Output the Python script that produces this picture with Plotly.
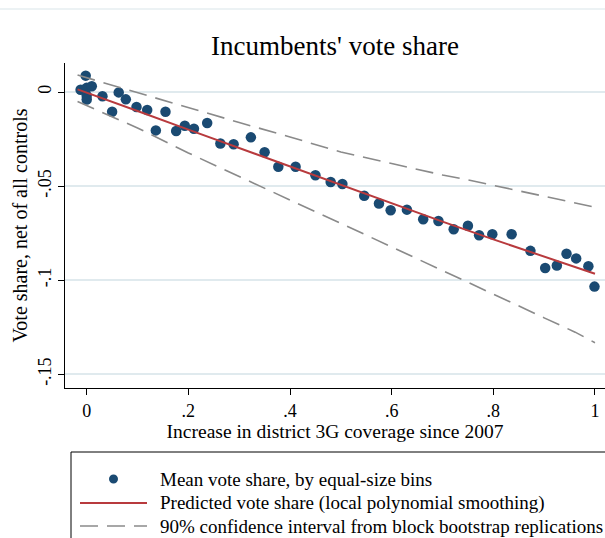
import plotly.graph_objects as go

# Binned means of incumbent vote share against the increase in 3G coverage
bin_x = [-0.012, -0.002, 0.000, 0.000, 0.000, 0.010, 0.031, 0.050, 0.063, 0.077,
         0.098, 0.119, 0.136, 0.155, 0.176, 0.193, 0.211, 0.237, 0.263, 0.289,
         0.323, 0.350, 0.377, 0.411, 0.450, 0.480, 0.503, 0.546, 0.575, 0.598,
         0.630, 0.662, 0.692, 0.722, 0.750, 0.772, 0.798, 0.836, 0.873, 0.902,
         0.925, 0.944, 0.963, 0.987, 0.999]
bin_y = [0.0012, 0.0087, 0.0022, -0.0020, -0.0040, 0.0031, -0.0023, -0.0105, -0.0002, -0.0039,
         -0.0080, -0.0096, -0.0204, -0.0105, -0.0207, -0.0179, -0.0195, -0.0165, -0.0274, -0.0278,
         -0.0241, -0.0320, -0.0397, -0.0397, -0.0442, -0.0478, -0.0489, -0.0551, -0.0592, -0.0628,
         -0.0625, -0.0676, -0.0685, -0.0729, -0.0711, -0.0761, -0.0756, -0.0756, -0.0844, -0.0935,
         -0.0922, -0.0859, -0.0884, -0.0926, -0.1034]

# Local polynomial fit and 90% bootstrap band
fit_x = [-0.018, 0.0, 0.1, 0.2, 0.3, 0.4, 0.5, 0.6, 0.7, 0.8, 0.9, 1.0]
fit_y = [0.0014, -0.0003, -0.0101, -0.0200, -0.0298, -0.0397, -0.0495, -0.0593, -0.0689, -0.0783, -0.0875, -0.0966]

ci_x = [-0.018, 0.1, 0.2, 0.3, 0.4, 0.5, 0.6, 0.7, 0.75, 0.8, 0.867, 0.9, 0.961, 1.0]
ci_upper = [0.0090, -0.0005, -0.0083, -0.0162, -0.0239, -0.0319, -0.0380, -0.0441, -0.0467, -0.0496, -0.0535, -0.0555, -0.0588, -0.0612]
ci_lower = [-0.0051, -0.0191, -0.0324, -0.0451, -0.0574, -0.0698, -0.0823, -0.0945, -0.1009, -0.1073, -0.1158, -0.1200, -0.1276, -0.1332]

x_ticks = [0, 0.2, 0.4, 0.6, 0.8, 1]
x_tick_labels = ["0", ".2", ".4", ".6", ".8", "1"]
y_ticks = [0, -0.05, -0.1, -0.15]
y_tick_labels = ["0", "-.05", "-.1", "-.15"]

legend_labels = [
    "Mean vote share, by equal-size bins",
    "Predicted vote share (local polynomial smoothing)",
    "90% confidence interval from block bootstrap replications",
]

FONT = "Liberation Serif"
NAVY = "#1a4a72"
RED = "#b83a3d"
GRAY = "#8a8a8a"
GRID = "#e0eaee"
DASH = "18px,9px"

# plot area in pixels: left 65, right 605, top 63, bottom 388
L, R, T, B = 65, 605, 63, 388


def px_x(p):
    return (p - L) / (R - L)


def px_y(p):
    return (B - p) / (B - T)


fig = go.Figure()

fig.add_trace(go.Scatter(
    x=bin_x, y=bin_y, mode="markers",
    marker=dict(color=NAVY, size=10.5, line=dict(width=0)),
    name=legend_labels[0], showlegend=False,
))
fig.add_trace(go.Scatter(
    x=fit_x, y=fit_y, mode="lines",
    line=dict(color=RED, width=2),
    name=legend_labels[1], showlegend=False,
))
fig.add_trace(go.Scatter(
    x=ci_x, y=ci_upper, mode="lines",
    line=dict(color=GRAY, width=1.6, dash=DASH),
    name=legend_labels[2], showlegend=False,
))
fig.add_trace(go.Scatter(
    x=ci_x, y=ci_lower, mode="lines",
    line=dict(color=GRAY, width=1.6, dash=DASH),
    name=legend_labels[2], showlegend=False,
))

# Legend box drawn beneath the plot
row_y = [479, 503, 526]
key_x0, key_x1, text_x = 80, 147, 158
shapes = [
    dict(type="line", xref="paper", yref="paper", x0=px_x(-20), x1=px_x(620),
         y0=px_y(9), y1=px_y(9), line=dict(color="#e6eef1", width=1.5)),
    dict(type="rect", xref="paper", yref="paper", x0=px_x(71), x1=px_x(640),
         y0=px_y(452), y1=px_y(570), line=dict(color="black", width=1), fillcolor="white",
         layer="below"),
    dict(type="circle", xref="paper", yref="paper", x0=px_x(109), x1=px_x(118),
         y0=px_y(row_y[0] - 4.5), y1=px_y(row_y[0] + 4.5), line=dict(width=0), fillcolor=NAVY),
    dict(type="line", xref="paper", yref="paper", x0=px_x(key_x0), x1=px_x(key_x1),
         y0=px_y(row_y[1]), y1=px_y(row_y[1]), line=dict(color=RED, width=2)),
    dict(type="line", xref="paper", yref="paper", x0=px_x(key_x0), x1=px_x(key_x1),
         y0=px_y(row_y[2]), y1=px_y(row_y[2]), line=dict(color=GRAY, width=1.6, dash=DASH)),
]
annotations = [
    dict(text=lab, xref="paper", yref="paper", x=px_x(text_x), y=px_y(yy),
         xanchor="left", yanchor="middle", showarrow=False,
         font=dict(family=FONT, size=19, color="black"))
    for lab, yy in zip(legend_labels, row_y)
]

fig.update_layout(
    width=605, height=538,
    margin=dict(l=L, r=605 - R, t=T, b=538 - B, autoexpand=False),
    paper_bgcolor="white", plot_bgcolor="white",
    font=dict(family=FONT, color="black", size=18),
    showlegend=False,
    title=dict(text="Incumbents' vote share", font=dict(family=FONT, size=27, color="black"),
               x=335 / 605, xanchor="center", xref="container",
               y=1 - 46 / 538, yanchor="middle", yref="container"),
    xaxis=dict(
        range=[-0.0427, 1.0197], tickvals=x_ticks, ticktext=x_tick_labels,
        showgrid=False, zeroline=False, showline=True, linecolor="black", linewidth=1,
        ticks="outside", ticklen=6, tickcolor="black", tickfont=dict(size=18),
        title=dict(text="Increase in district 3G coverage since 2007", font=dict(size=19.5), standoff=0),
    ),
    yaxis=dict(
        range=[-0.15727, 0.01541], tickvals=y_ticks, ticktext=y_tick_labels, tickangle=-90,
        showgrid=True, gridcolor=GRID, gridwidth=1.5, zeroline=False,
        showline=True, linecolor="black", linewidth=1,
        ticks="outside", ticklen=6, tickcolor="black", tickfont=dict(size=18),
        title=dict(text="Vote share, net of all controls", font=dict(size=20), standoff=1),
    ),
    shapes=shapes,
    annotations=annotations,
)

fig.write_html("out.html")
